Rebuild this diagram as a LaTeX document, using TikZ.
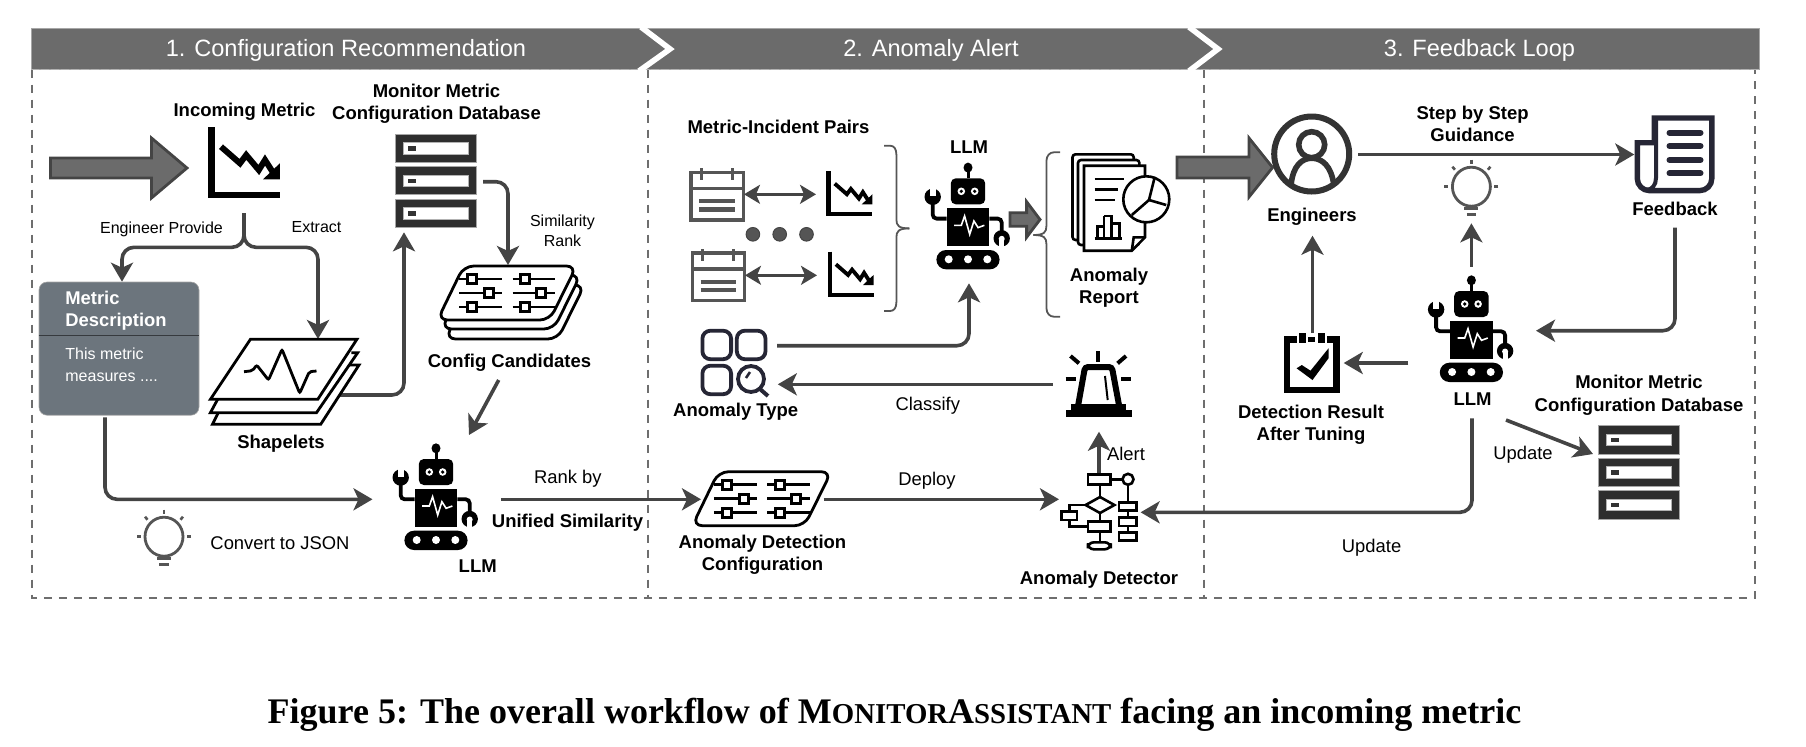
\documentclass[tikz,border=0pt]{standalone}
\usepackage{fontspec}
\setmainfont{Liberation Sans}
\newfontfamily\capfont{Liberation Serif}
\usetikzlibrary{arrows.meta}

\definecolor{colorBand}{HTML}{6B6B6B}
\definecolor{colorFlow}{HTML}{444444}
\definecolor{colorFrame}{HTML}{6E6E6E}
\definecolor{colorBox}{HTML}{6C757D}
\definecolor{colorNavy}{HTML}{262635}
\definecolor{colorSoft}{HTML}{555555}

\tikzset{
	flow/.style={draw=colorFlow,line width=1.8pt,rounded corners=6pt,-{Stealth[length=9.5pt,width=11pt,inset=2.5pt]}},
	pairflow/.style={draw=colorFlow,line width=1.2pt,{Stealth[length=8pt,width=9.5pt,inset=2pt]}-{Stealth[length=8pt,width=9.5pt,inset=2pt]}},
	lbl/.style={font=\fontsize{9.2}{11.2}\selectfont,align=center,inner sep=0pt},
	lblsmall/.style={font=\fontsize{8}{10}\selectfont,align=center,inner sep=0pt},
	lblbold/.style={font=\fontsize{9.25}{11.2}\selectfont\bfseries,align=center,inner sep=0pt},
	lblband/.style={font=\fontsize{11.8}{14}\selectfont,text=white,inner sep=0pt},
	lblbox/.style={text=white,anchor=west,inner sep=0pt},
	blockarrow/.style={fill=colorBand,draw=colorFlow,line width=1.4pt},
	chevron/.style={draw=white,line width=2.8pt},
	sidebrace/.style={draw=colorSoft,line width=.9pt}
}

% icons, all given in picture pixels
\newcommand\drawBlockArrow[6]{
	\draw[blockarrow] (#1,#4-#5) to (#2,#4-#5) to (#2,#4-#6) to (#3,#4) to (#2,#4+#6) to (#2,#4+#5) to (#1,#4+#5) -- cycle;
}
\newcommand\drawChart[3]{
	\begin{scope}[shift={(#1,#2)},scale=#3]
		\draw[line width=#3*3.2pt] (3.3,0) to (3.3,67.7) to (72,67.7);
		\draw[line width=#3*3pt] (13,19.7) to (32,36.3) to (38.2,28) to (50.8,43) to (57,33) to (66,47);
		\fill (55,52.3) to (71.9,52.3) to (71.9,36.3) -- cycle;
	\end{scope}
}
\newcommand\drawDatabase[2]{
	\begin{scope}[shift={(#1,#2)}]
		\foreach \rowY in {0,32.5,65}{
			\fill[black!82,draw=black!35,line width=.4pt] (0,\rowY) rectangle (81,\rowY+28.3);
			\fill[white,draw=black!30,line width=.3pt] (7.6,\rowY+8.3) rectangle (72.6,\rowY+20);
			\fill[black!80] (12.7,\rowY+12) rectangle (20.2,\rowY+16.7);
		}
	\end{scope}
}
\newcommand\drawRobot[2]{
	\begin{scope}[shift={(#1,#2)}]
		\fill (0,-10.7) ellipse [x radius=4.5,y radius=5];
		\draw[line width=1.5pt] (0,-8) to (0,0);
		\fill[rounded corners=2.5pt] (-17.2,0) rectangle (17.2,26);
		\foreach \eyeX in {-6.7,6.7}{
			\fill[white] (\eyeX,13) circle[radius=3.8];
			\fill (\eyeX,13) circle[radius=1.8];
		}
		\fill (-21.4,30) rectangle (21.4,67.7);
		\draw[white,line width=.8pt] (-13.9,47) to (-6.7,47) to (-3.4,37.7) to (1.7,56) to (5.9,42.7) to (10.1,49.3) to (16.4,47);
		\fill[rounded corners=4.8pt] (-31.6,71.7) rectangle (31.6,91);
		\foreach \wheelX in {-19.3,0,19.3}{
			\fill[white] (\wheelX,81) circle[radius=4];
		}
		\draw[line width=1.9pt,rounded corners=2pt] (-21.4,40.3) to (-35.3,40.3) to (-35.3,21);
		\fill (-35.3,18.5) circle[radius=8.2];
		\fill[white] (-38.3,9) rectangle (-32.3,18);
		\draw[line width=1.9pt,rounded corners=2pt] (21.4,40.3) to (33.7,40.3) to (33.7,53);
		\fill (33.7,60) circle[radius=8.2];
		\fill[white] (33.7,60.5) circle[radius=3];
		\fill[white] (31.2,60.5) rectangle (36.2,69);
	\end{scope}
}
\newcommand\drawBulb[2]{
	\begin{scope}[shift={(#1,#2)},draw=colorSoft]
		\draw[line width=1.4pt] (0,0) ellipse [x radius=19,y radius=19.5];
		\draw[line width=1.5pt] (-7,22) to (7,22);
		\draw[line width=1.5pt] (-4.6,28) to (4.6,28);
		\draw[line width=1.3pt] (0,-27) to (0,-23);
		\draw[line width=1.3pt] (-19,-20) to (-16.5,-17);
		\draw[line width=1.3pt] (19,-20) to (16.5,-17);
		\draw[line width=1.3pt] (-27,0) to (-23,0);
		\draw[line width=1.3pt] (27,0) to (23,0);
	\end{scope}
}
\newcommand\drawSliderBoard[2]{
	\begin{scope}[shift={(#1,#2)}]
		\draw[line width=1.4pt,fill=white,rounded corners=5pt] (-43.3,-27) to (69.5,-27) to (42.8,27) to (-69.5,27) -- cycle;
		\foreach \rowY/\knobA/\knobB in {-14/-35/17.9,0/-17.8/34.2,14/-35/17.9}{
			\draw[line width=1.3pt] (-48,\rowY) to (-4.8,\rowY);
			\draw[line width=1.3pt] (5.6,\rowY) to (47.7,\rowY);
			\draw[line width=1.3pt,fill=white] (\knobA-4.5,\rowY-4.5) rectangle (\knobA+4.5,\rowY+4.5);
			\draw[line width=1.3pt,fill=white] (\knobB-4.5,\rowY-4.5) rectangle (\knobB+4.5,\rowY+4.5);
		}
	\end{scope}
}
\newcommand\drawCalendar[2]{
	\begin{scope}[shift={(#1,#2)},draw=colorSoft]
		\draw[line width=1.7pt] (0,0) rectangle (52.3,47.7);
		\draw[line width=1.7pt] (0,16) to (52.3,16);
		\draw[line width=1.5pt] (10,-4) to (10,8);
		\draw[line width=1.5pt] (41,-4) to (41,8);
		\draw[line width=2.2pt] (8.3,28.7) to (43.5,28.7);
		\draw[line width=2.2pt] (8.3,37) to (43.5,37);
	\end{scope}
}
\newcommand\drawSideBrace[6]{
	\draw[sidebrace] (#1,#3) to (#1+6*#6,#3) .. controls (#1+10*#6,#3) and (#2,#3+3) .. (#2,#3+9) to (#2,#4-9) .. controls (#2,#4-3) and (#2+2*#6,#4) .. (#2+13*#6,#4);
	\draw[sidebrace] (#1,#5) to (#1+6*#6,#5) .. controls (#1+10*#6,#5) and (#2,#5-3) .. (#2,#5-9) to (#2,#4+9) .. controls (#2,#4+3) and (#2+2*#6,#4) .. (#2+13*#6,#4);
}

\newcommand\capSmall[1]{{\fontsize{14.4}{18}\selectfont #1}}

\begin{document}
\begin{tikzpicture}[x=0.5pt,y=-0.5pt]
	\useasboundingbox (0,0) rectangle (1806,746);

	% frame
	\draw[colorFrame,line width=1pt,dash pattern=on 4pt off 3.5pt] (32,69.5) to (32,597.7) to (1755,597.7) to (1755,69.5);
	\draw[colorFrame,line width=1pt,dash pattern=on 4pt off 3.5pt] (648,69.5) to (648,597.7);
	\draw[colorFrame,line width=1pt,dash pattern=on 4pt off 3.5pt] (1204,69.5) to (1204,597.7);

	% band
	\fill[colorBand,draw=black!35,line width=.5pt] (31,28) rectangle (1759,69.5);
	\draw[white!70!black,line width=.5pt,dash pattern=on 4pt off 1pt] (31,69.5) to (1759,69.5);
	\begin{scope}
		\clip (31,27) rectangle (1759,70);
		\draw[chevron] (641,27) to (670,49) to (639,71);
		\draw[chevron] (1189,27) to (1218,49) to (1189,71);
	\end{scope}
	\node[lblband] (bandOne) at (346,50) {1. Configuration Recommendation};
	\node[lblband] (bandTwo) at (931,50) {2. Anomaly Alert};
	\node[lblband] (bandThree) at (1479.5,50) {3. Feedback Loop};

	% part 1
	\drawBlockArrow{50.5}{151.5}{187}{168}{10}{30}
	\node[lblbold] (incomingLbl) at (244.5,112) {Incoming Metric};
	\drawChart{208}{127}{1}
	\node[lblbold] (dbLblA) at (436.5,104) {Monitor Metric\\Configuration Database};
	\drawDatabase{395.6}{134}

	\coordinate (forkTop) at (244,213);
	\coordinate (forkBar) at (244,247.3);
	\coordinate (descIn) at (122,281.7);
	\coordinate (shapeIn) at (318,339);
	\draw[flow] (forkTop) |- (descIn |- forkBar) -- (descIn);
	\draw[flow] (forkTop) |- (shapeIn |- forkBar) -- (shapeIn);
	\node[lblsmall] (provideLbl) at (161.5,229) {Engineer Provide};
	\node[lblsmall] (extractLbl) at (316.5,227) {Extract};

	\node[fill=colorBox,draw=black!35,line width=.3pt,rounded corners=4pt,minimum width=80pt,minimum height=66.6pt,inner sep=0pt,anchor=north west] (descBox) at (38.7,281.7) {};
	\draw[black!50!colorBox,line width=.4pt] (descBox.west |- 0,335.7) to (descBox.east |- 0,335.7);
	\node[lblbox,font=\fontsize{9.2}{11}\selectfont\bfseries] (descTitle) at (65,297.7) {Metric};
	\node[lblbox,font=\fontsize{9.2}{11}\selectfont\bfseries] (descTitleB) at (65,321.5) {Description};
	\node[lblbox,font=\fontsize{8}{10}\selectfont] (descBody) at (65,354) {This metric};
	\node[lblbox,font=\fontsize{8}{10}\selectfont] (descBodyB) at (65,377.5) {measures ....};

	\coordinate (shapeOut) at (339,395);
	\coordinate (dbIn) at (404,232.3);
	\draw[flow] (shapeOut) -| (dbIn);

	% shapelets
	\draw[line width=1.4pt,fill=white] (349.3,365) to (359,365) to (320.7,424.3) to (212.5,424.3) to (225,399);
	\draw[line width=1.4pt,fill=white] (351.4,352.7) to (357.7,352.7) to (316.5,412.7) to (210.4,412.7) to (220,395);
	\draw[line width=1.4pt,fill=white] (250.4,339.3) to (356.9,339.3) to (317.8,399.3) to (210.4,399.3) -- cycle;
	\draw[line width=1.4pt,rounded corners=1pt] (244,371.7) to (252.5,370.7) to (256.7,365) to (268.5,380) to (282,349.3) to (299.7,393.3) to (309.3,371.7) to (316.5,371);
	\node[lblbold] (shapeletLbl) at (281,444) {Shapelets};

	\coordinate (dbOut) at (483,181.7);
	\coordinate (candIn) at (508,265);
	\draw[flow] (dbOut) -| (candIn);
	\node[lblsmall] (rankLbl) at (562.5,230.7) {Similarity\\Rank};

	\begin{scope}[shift={(8,19)}]
		\draw[line width=1.4pt,fill=white,rounded corners=5pt] (463.7,266) to (576.5,266) to (549.8,320) to (437.5,320) -- cycle;
	\end{scope}
	\begin{scope}[shift={(4,9)}]
		\draw[line width=1.4pt,fill=white,rounded corners=5pt] (463.7,266) to (576.5,266) to (549.8,320) to (437.5,320) -- cycle;
	\end{scope}
	\drawSliderBoard{507}{293}
	\node[lblbold] (candLbl) at (509.5,362.3) {Config Candidates};

	\coordinate (candOut) at (498.7,380);
	\coordinate (llmOneIn) at (469,435);
	\draw[flow] (candOut) to (llmOneIn);

	\drawRobot{436}{459}
	\node[lblbold] (llmOneLbl) at (477.7,565.7) {LLM};

	\coordinate (descOut) at (105,417.3);
	\coordinate (llmOneLeft) at (372.5,499.3);
	\draw[flow] (descOut) |- (llmOneLeft);

	\drawBulb{164}{536.7}
	\node[lbl] (jsonLbl) at (280,542.7) {Convert to JSON};
	\node[lbl] (rankByLbl) at (567.8,479) {Rank by};
	\node[lblbold] (unifiedLbl) at (567.5,523) {Unified Similarity};

	\coordinate (llmOneOut) at (500.8,499.3);
	\coordinate (adcIn) at (701,499.3);
	\draw[flow] (llmOneOut) to (adcIn);

	% part 2
	\node[lblbold] (pairLbl) at (778.5,126.7) {Metric-Incident Pairs};
	\drawCalendar{691}{172.3}
	\drawCalendar{692.2}{253}
	\coordinate (calOneOut) at (744,194.3);
	\coordinate (chartOneIn) at (816,194.3);
	\coordinate (calTwoOut) at (745,275.3);
	\coordinate (chartTwoIn) at (817,275.3);
	\draw[pairflow] (calOneOut) to (chartOneIn);
	\draw[pairflow] (calTwoOut) to (chartTwoIn);
	\drawChart{826.4}{171}{.64}
	\drawChart{827.6}{251.7}{.64}
	\foreach \dotX in {752.9,779.7,806.5}{
		\draw[fill=colorSoft,draw=colorFlow,line width=.5pt] (\dotX,234.3) circle[radius=6.8];
	}
	\drawSideBrace{884}{896.4}{145.7}{228.4}{311}{1}
	\drawRobot{968}{178.3}
	\node[lblbold] (llmTwoLbl) at (969,146.7) {LLM};
	\drawBlockArrow{1010}{1026.6}{1040}{219.5}{6.8}{17.8}
	\drawSideBrace{1060}{1046.4}{152.3}{235}{316.7}{-1}

	% report
	\draw[line width=1.3pt,fill=white,rounded corners=1.5pt] (1072.5,154.3) rectangle (1133.7,240);
	\draw[line width=1.3pt,fill=white,rounded corners=1.5pt] (1078,160) rectangle (1139.4,245);
	\draw[line width=1.3pt,fill=white] (1084,165.7) to (1145,165.7) to (1145,237.3) to (1131.8,250.7) to (1084,250.7) -- cycle;
	\draw[line width=1.3pt] (1131.8,250.7) to (1133.7,237.3) to (1145,237.3);
	\draw[line width=1.3pt] (1094.7,179) to (1124,179);
	\draw[line width=1.3pt] (1094.7,189.3) to (1117.6,189.3);
	\draw[line width=1.3pt] (1094.7,200) to (1114.6,200);
	\draw[line width=1.3pt,fill=white] (1146.3,199.3) circle[radius=23];
	\draw[line width=1.3pt] (1154.8,176.7) to (1149,200) to (1166.2,205);
	\draw[line width=1.3pt] (1149,200) to (1131.8,215);
	\draw[line width=1.3pt] (1094.7,238.3) to (1122,238.3);
	\draw[line width=1.3pt] (1097.3,238.3) to (1097.3,226.7) to (1104,226.7) to (1104,238.3);
	\draw[line width=1.3pt] (1104,216) to (1111.6,216) to (1111.6,238.3);
	\draw[line width=1.3pt] (1104,216) to (1104,226.7);
	\draw[line width=1.3pt] (1111.6,223.3) to (1119.6,223.3) to (1119.6,238.3);
	\node[lblbold] (reportLbl) at (1109,287.5) {Anomaly\\Report};

	% anomaly type
	\foreach \boxX/\boxY in {702.4/330.7,736.8/330.7,702.4/365.7}{
		\draw[colorNavy,line width=1.9pt,rounded corners=4pt] (\boxX,\boxY) rectangle (\boxX+28.7,\boxY+28.5);
	}
	\draw[colorNavy,line width=1.9pt] (751,379) circle[radius=13];
	\draw[colorNavy,line width=2pt] (760,389) to (768,396);
	\draw[colorNavy,line width=1.3pt] (746,378) to (750,372);
	\node[lblbold] (typeLbl) at (735.7,412) {Anomaly Type};

	\coordinate (typeOut) at (777,345.7);
	\coordinate (llmTwoIn) at (969,283.3);
	\draw[flow] (typeOut) -| (llmTwoIn);

	% alarm
	\draw[line width=3pt,rounded corners=1.5pt,fill=white] (1078.2,405) to (1085,367) to (1111.9,367) to (1119,405);
	\fill (1071.3,404) rectangle (1126,410);
	\fill (1065.6,410) rectangle (1131.8,416.7);
	\draw[line width=1pt] (1105,376) to (1107.7,400);
	\draw[line width=2pt] (1098,351) to (1098,361.7);
	\draw[line width=2pt] (1070.5,356) to (1079,363.3);
	\draw[line width=2pt] (1126,356) to (1117.6,363.3);
	\draw[line width=2pt] (1065.6,379.3) to (1075.6,379.3);
	\draw[line width=2pt] (1121.4,379.3) to (1131,379.3);

	\coordinate (alarmOut) at (1052.5,384.3);
	\coordinate (typeIn) at (777.8,384.3);
	\draw[flow] (alarmOut) to (typeIn);
	\node[lbl] (classifyLbl) at (927.8,406) {Classify};

	\drawSliderBoard{761.8}{498.7}
	\node[lblbold] (adcLbl) at (762.5,555) {Anomaly Detection\\Configuration};
	\coordinate (adcOut) at (823.7,499.3);
	\coordinate (detIn) at (1059,499.3);
	\draw[flow] (adcOut) to (detIn);
	\node[lbl] (deployLbl) at (927,481) {Deploy};

	% detector
	\draw[line width=1.3pt,fill=white] (1087.8,474.3) rectangle (1110.7,484.3);
	\draw[line width=1.3pt] (1110.7,479.3) to (1122.5,479.3);
	\draw[line width=1.3pt] (1128,479.3) circle[radius=5.5];
	\draw[line width=1.3pt] (1128,484.8) to (1128,502.3);
	\draw[line width=1.3pt] (1128,510.7) to (1128,517.3);
	\draw[line width=1.3pt] (1128,526) to (1128,532.7);
	\draw[line width=1.3pt] (1100,484.3) to (1100,497);
	\draw[line width=1.3pt] (1100,513) to (1100,521.7);
	\draw[line width=1.3pt] (1100,531.7) to (1100,542.3);
	\draw[line width=1.3pt] (1100,497) to (1114.4,505) to (1100,513) to (1085.6,505) -- cycle;
	\draw[line width=1.3pt] (1085.6,505) to (1069.5,505) to (1069.5,511.7);
	\draw[line width=1.3pt] (1061.7,511.7) rectangle (1077,520);
	\draw[line width=1.3pt] (1069.5,520) to (1069.5,526.7) to (1087.8,526.7);
	\draw[line width=1.3pt] (1087.8,521.7) rectangle (1110.7,531.7);
	\draw[line width=1.3pt,rounded corners=3pt] (1087.8,542.3) rectangle (1110.7,549.3);
	\foreach \cellY/\cellZ in {502.3/510.7,517.3/526,532.7/540.7}{
		\draw[line width=1.3pt] (1119,\cellY) rectangle (1136.7,\cellZ);
	}
	\node[lblbold] (detLbl) at (1099,580) {Anomaly Detector};

	\coordinate (detOut) at (1099,473);
	\coordinate (alarmIn) at (1099,431.7);
	\draw[flow] (detOut) to (alarmIn);
	\node[lbl] (alertLbl) at (1126,454) {Alert};

	% part 3
	\drawBlockArrow{1177}{1249}{1272.6}{167.5}{10.5}{29.5}
	\draw[black!80,line width=3pt,fill=white] (1311.7,154) circle[radius=37.5];
	\draw[black!80,line width=2.8pt] (1311.7,144.7) circle[radius=13];
	\draw[black!80,line width=2.8pt] (1291.2,184) .. controls (1293,165.7) and (1302,158.2) .. (1311.7,158.2) .. controls (1322,158.2) and (1331,165.7) .. (1333.7,184);
	\node[lblbold] (engLbl) at (1312,216.8) {Engineers};
	\node[lblbold] (guideLbl) at (1472.6,124) {Step by Step\\Guidance};

	\coordinate (engOut) at (1358.4,154.5);
	\coordinate (feedIn) at (1634.3,154.5);
	\draw[flow] (engOut) to (feedIn);

	\drawBulb{1471.4}{186.7}
	\coordinate (llmThreeOut) at (1471.4,266.7);
	\coordinate (bulbIn) at (1471.4,223.3);
	\draw[flow] (llmThreeOut) to (bulbIn);

	% feedback
	\draw[colorNavy,line width=2.7pt,fill=white] (1654.2,142.7) to (1637.3,142.7) [rounded corners=6pt] to (1637.3,190.6) to (1711.8,190.6) [sharp corners] to (1711.8,118) to (1654.2,118) -- cycle;
	\draw[colorNavy,line width=2pt] (1656,120) to (1656,178) .. controls (1656,185) and (1652,190) .. (1646,190);
	\foreach \lineY in {132.7,146,160,173.3}{
		\draw[colorNavy,line width=3pt,line cap=round] (1669.5,\lineY) to (1700.5,\lineY);
	}
	\node[lblbold] (feedLbl) at (1675,208.4) {Feedback};

	\coordinate (feedOut) at (1675,227.7);
	\coordinate (llmThreeIn) at (1536,330.7);
	\draw[flow] (feedOut) |- (llmThreeIn);

	\drawRobot{1471.4}{291}
	\node[lblbold] (llmThreeLbl) at (1472.6,399) {LLM};

	% clipboard
	\draw[line width=3.3pt] (1287,339.5) rectangle (1336.5,390);
	\fill[white] (1296.6,332) rectangle (1326.6,345);
	\fill (1298.6,333.3) rectangle (1305.7,343.3);
	\fill (1317.7,333.3) rectangle (1324.5,343.3);
	\fill (1307.7,336.7) rectangle (1315,341.7);
	\fill (1296.6,368.3) to (1301.8,365) to (1310.5,370.7) to (1328.5,348.3) to (1328.5,358.3) to (1312.5,380) -- cycle;
	\node[lblbold] (resultLbl) at (1311,424.5) {Detection Result\\After Tuning};

	\coordinate (clipOut) at (1312.5,333);
	\coordinate (engIn) at (1312.5,235.7);
	\draw[flow] (clipOut) to (engIn);
	\coordinate (llmThreeLeft) at (1408.3,363);
	\coordinate (clipIn) at (1343.7,363);
	\draw[flow] (llmThreeLeft) to (clipIn);

	\node[lblbold] (dbLblB) at (1639,395.2) {Monitor Metric\\Configuration Database};
	\drawDatabase{1598.4}{425.7}
	\coordinate (llmThreeDb) at (1506,420);
	\coordinate (dbTwoIn) at (1593,454);
	\draw[flow] (llmThreeDb) to (dbTwoIn);
	\node[lbl] (updateLblA) at (1523,455) {Update};

	\coordinate (llmThreeDown) at (1472,418.3);
	\coordinate (detRight) at (1140.6,512.3);
	\draw[flow] (llmThreeDown) |- (detRight);
	\node[lbl] (updateLblB) at (1371.6,548) {Update};

	% caption
	\node[inner sep=0pt,font=\capfont\fontsize{18}{22}\selectfont\bfseries] (figCaption) at (894.5,715) {Figure 5: The overall workflow of M\capSmall{ONITOR}A\capSmall{SSISTANT} facing an incoming metric};
\end{tikzpicture}
\end{document}
